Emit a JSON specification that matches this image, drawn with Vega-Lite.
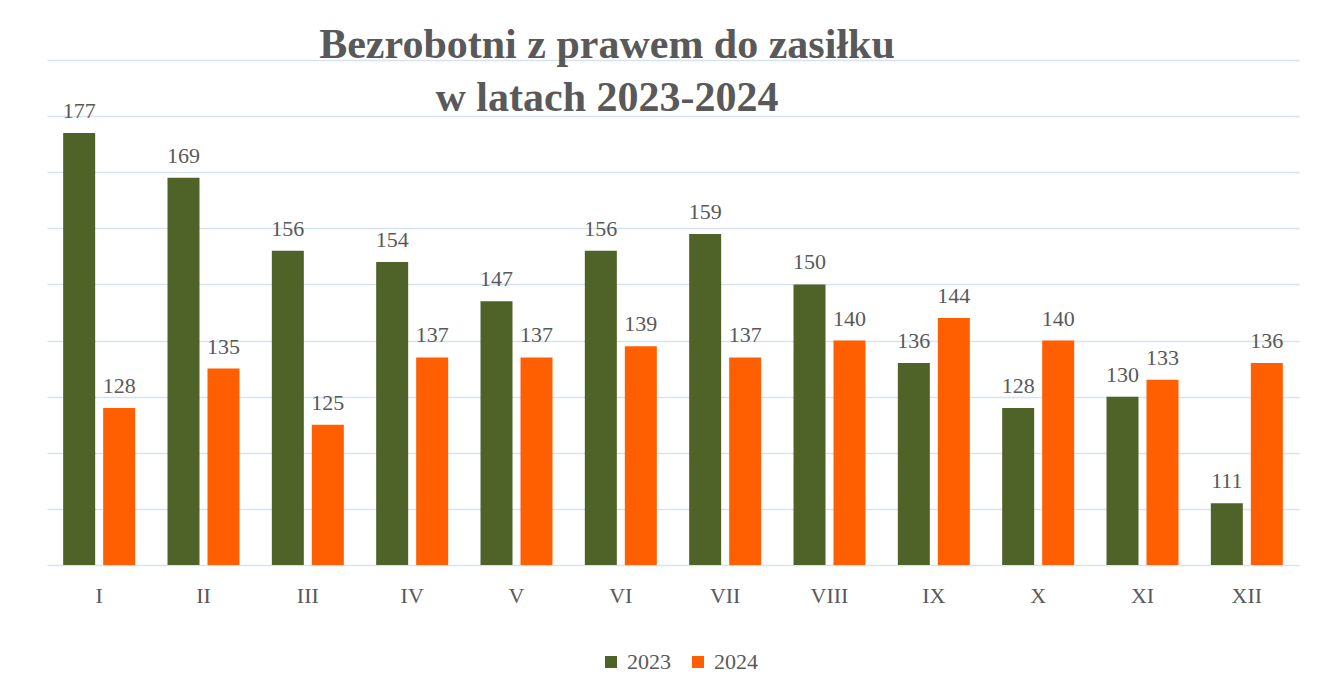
{
  "$schema": "https://vega.github.io/schema/vega-lite/v6.json",
  "width": 1252,
  "height": 505,
  "autosize": {"type": "none"},
  "padding": {"left": 47, "top": 60, "right": 19, "bottom": 128},
  "background": "white",
  "title": {
    "text": ["Bezrobotni z prawem do zasiłku", "w latach 2023-2024"],
    "font": "Times New Roman, Liberation Serif, serif",
    "fontSize": 42,
    "fontWeight": "bold",
    "color": "#595959",
    "anchor": "middle",
    "frame": "group",
    "baseline": "alphabetic",
    "lineHeight": 53,
    "offset": -93,
    "dx": -66
  },
  "config": {
    "view": {"stroke": null},
    "font": "Times New Roman, Liberation Serif, serif"
  },
  "data": {
    "values": [
      {"month": "I", "year": "2023", "value": 177},
      {"month": "I", "year": "2024", "value": 128},
      {"month": "II", "year": "2023", "value": 169},
      {"month": "II", "year": "2024", "value": 135},
      {"month": "III", "year": "2023", "value": 156},
      {"month": "III", "year": "2024", "value": 125},
      {"month": "IV", "year": "2023", "value": 154},
      {"month": "IV", "year": "2024", "value": 137},
      {"month": "V", "year": "2023", "value": 147},
      {"month": "V", "year": "2024", "value": 137},
      {"month": "VI", "year": "2023", "value": 156},
      {"month": "VI", "year": "2024", "value": 139},
      {"month": "VII", "year": "2023", "value": 159},
      {"month": "VII", "year": "2024", "value": 137},
      {"month": "VIII", "year": "2023", "value": 150},
      {"month": "VIII", "year": "2024", "value": 140},
      {"month": "IX", "year": "2023", "value": 136},
      {"month": "IX", "year": "2024", "value": 144},
      {"month": "X", "year": "2023", "value": 128},
      {"month": "X", "year": "2024", "value": 140},
      {"month": "XI", "year": "2023", "value": 130},
      {"month": "XI", "year": "2024", "value": 133},
      {"month": "XII", "year": "2023", "value": 111},
      {"month": "XII", "year": "2024", "value": 136}
    ]
  },
  "encoding": {
    "x": {
      "field": "month",
      "type": "nominal",
      "sort": null,
      "scale": {"paddingInner": 0.31, "paddingOuter": 0.155},
      "axis": {
        "title": null,
        "domain": false,
        "ticks": false,
        "tickSize": 0,
        "labelAngle": 0,
        "labelFont": "Times New Roman, Liberation Serif, serif",
        "labelFontSize": 22,
        "labelColor": "#595959",
        "labelBaseline": "alphabetic",
        "labelPadding": 37
      }
    },
    "xOffset": {
      "field": "year",
      "type": "nominal",
      "scale": {"paddingInner": 0.2, "paddingOuter": 0}
    },
    "y": {
      "field": "value",
      "type": "quantitative",
      "scale": {"domain": [100, 190], "nice": false, "zero": false},
      "axis": {
        "title": null,
        "labels": false,
        "ticks": false,
        "domain": false,
        "values": [100, 110, 120, 130, 140, 150, 160, 170, 180, 190],
        "grid": true,
        "gridColor": "#D6E1F1",
        "gridWidth": 1.6,
        "gridOpacity": 1
      }
    }
  },
  "layer": [
    {
      "mark": {"type": "bar", "clip": true},
      "encoding": {
        "color": {
          "field": "year",
          "type": "nominal",
          "scale": {"domain": ["2023", "2024"], "range": ["#4F6228", "#FF5F00"]},
          "legend": {
            "title": null,
            "orient": "none",
            "direction": "horizontal",
            "legendX": 553,
            "legendY": 591,
            "symbolType": "square",
            "symbolSize": 144,
            "symbolStrokeWidth": 0,
            "symbolOpacity": 1,
            "labelFont": "Times New Roman, Liberation Serif, serif",
            "labelFontSize": 22,
            "labelColor": "#595959",
            "labelOffset": 5,
            "columnPadding": 16
          }
        }
      }
    },
    {
      "mark": {
        "type": "text",
        "baseline": "alphabetic",
        "dy": -15,
        "font": "Times New Roman, Liberation Serif, serif",
        "fontSize": 22,
        "color": "#595959"
      },
      "encoding": {
        "text": {"field": "value", "type": "quantitative"}
      }
    }
  ]
}
